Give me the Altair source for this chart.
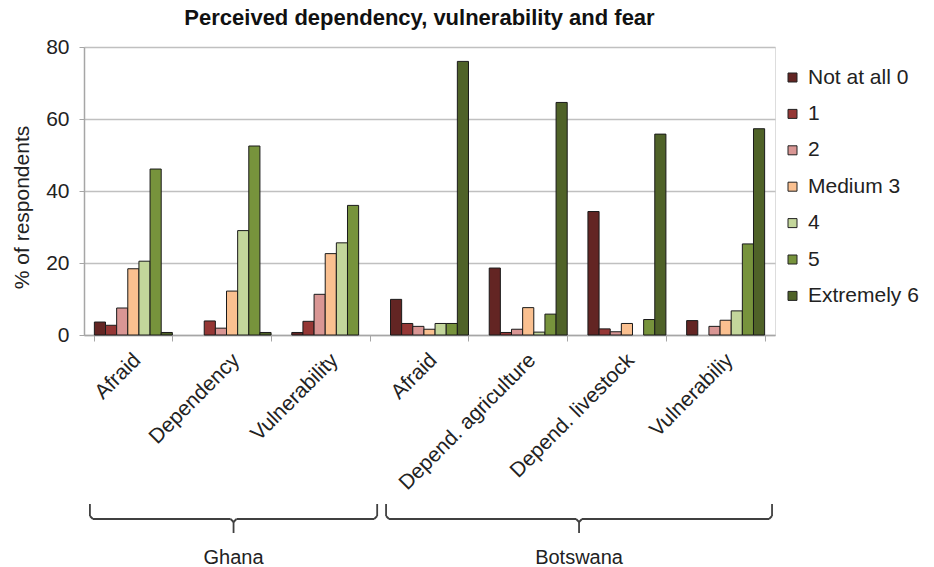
import altair as alt
import pandas as pd

# Survey items, grouped by country
countries = ["Ghana", "Ghana", "Ghana", "Botswana", "Botswana", "Botswana", "Botswana"]
items = ["Afraid", "Dependency", "Vulnerability", "Afraid",
         "Depend. agriculture", "Depend. livestock", "Vulnerabiliy"]

# Response levels (0 = not at all ... 6 = extremely)
levels = ["Not at all 0", "1", "2", "Medium 3", "4", "5", "Extremely 6"]
colors = ["#632523", "#953735", "#D99694", "#FAC090", "#C3D69B", "#77933C", "#4F6228"]

# % of respondents per level, one value per item
not_at_all_0 = [3.6, 0.0, 0.7, 9.9, 18.6, 34.3, 4.0]
level_1 = [2.7, 3.9, 3.8, 3.2, 0.7, 1.7, 0.0]
level_2 = [7.5, 1.9, 11.3, 2.4, 1.6, 0.9, 2.4]
medium_3 = [18.4, 12.2, 22.6, 1.6, 7.6, 3.2, 4.1]
level_4 = [20.5, 29.0, 25.6, 3.2, 0.8, 0.0, 6.7]
level_5 = [46.1, 52.5, 36.0, 3.2, 5.8, 4.3, 25.3]
extremely_6 = [0.7, 0.7, 0.0, 76.0, 64.6, 55.8, 57.3]

series = [not_at_all_0, level_1, level_2, medium_3, level_4, level_5, extremely_6]

keys = [f"{c}|{i}" for c, i in zip(countries, items)]
rows = []
for lvl, vals in zip(levels, series):
    for k, v in zip(keys, vals):
        rows.append({"key": k, "level": lvl, "value": v})
bars_df = pd.DataFrame(rows)

FONT = "Liberation Sans"
W, H = 691, 288

bars = alt.Chart(bars_df).transform_filter("datum.value > 0").mark_bar(
    stroke="#1a1a1a", strokeWidth=1
).encode(
    x=alt.X("key:N", sort=keys, title=None,
            scale=alt.Scale(paddingInner=0.21, paddingOuter=0.105),
            axis=alt.Axis(labelExpr="split(datum.label, '|')[1]", labelAngle=-45,
                          labelFontSize=21, labelFont=FONT, labelColor="#222",
                          labelPadding=8, labelOffset=-4,
                          tickBand="extent", tickSize=6, tickColor="#a6a6a6",
                          domainColor="#a6a6a6", domainWidth=1.5, grid=False,
                          labelLimit=400)),
    xOffset=alt.XOffset("level:N", sort=levels,
                        scale=alt.Scale(domain=levels, paddingInner=0, paddingOuter=0)),
    y=alt.Y("value:Q", title="% of respondents",
            scale=alt.Scale(domain=[0, 80], nice=False),
            axis=alt.Axis(values=[0, 20, 40, 60, 80], labelFontSize=21, labelFont=FONT,
                          labelColor="#222", labelPadding=10, tickSize=5,
                          tickColor="#a6a6a6", domainColor="#a6a6a6", domainWidth=1.5,
                          gridColor="#c0c0c0", gridWidth=1.5,
                          titleFontSize=21, titleFont=FONT, titleFontWeight="normal",
                          titleColor="#222", titleX=-62, titleY=160,
                          titleBaseline="middle")),
    color=alt.Color("level:N", sort=levels,
                    scale=alt.Scale(domain=levels, range=colors),
                    legend=alt.Legend(title=None, orient="none", legendX=698, legendY=20,
                                      symbolType="square", symbolSize=81,
                                      symbolStrokeColor="#222", symbolStrokeWidth=1,
                                      labelFontSize=21, labelFont=FONT, labelColor="#222",
                                      labelOffset=5, rowPadding=14.4)),
)

# Brackets below the item labels, one per country (x in item-index units)
group_names = ["Ghana", "Botswana"]
group_sizes = [3, 4]
inset_l, inset_r, corner = 0.06, 0.03, 0.03
seg_rows, lab_rows = [], []
start = 0
for name, n in zip(group_names, group_sizes):
    s = start + inset_l
    e = start + n - inset_r
    m = (s + e) / 2
    segs = [
        (s, s, 457, 469), (s, s + corner, 469, 472),
        (s + corner, m - corner, 472, 472), (m - corner, m, 472, 475),
        (m, m + corner, 475, 472), (m + corner, e - corner, 472, 472),
        (e - corner, e, 472, 469), (e, e, 469, 457),
        (m, m, 475, 486),
    ]
    for x1, x2, y1, y2 in segs:
        seg_rows.append({"x": x1, "x2": x2, "y": y1, "y2": y2})
    lab_rows.append({"x": m, "name": name})
    start += n
seg_df = pd.DataFrame(seg_rows)
lab_df = pd.DataFrame(lab_rows)

idx_scale = alt.Scale(domain=[0, sum(group_sizes)], nice=False, zero=False)

brackets = alt.Chart(seg_df).mark_rule(color="#404040", strokeWidth=1.8).encode(
    x=alt.X("x:Q", scale=idx_scale, axis=None),
    x2="x2:Q",
    y=alt.Y("y:Q", scale=None),
    y2="y2:Q",
)

group_labels = alt.Chart(lab_df).mark_text(
    fontSize=20, font=FONT, color="#222", baseline="middle"
).encode(
    x=alt.X("x:Q", scale=idx_scale, axis=None),
    y=alt.value(511),
    text="name:N",
)

chart = alt.layer(bars, brackets, group_labels).resolve_scale(
    x="independent"
).properties(
    width=W, height=H,
    title=alt.TitleParams("Perceived dependency, vulnerability and fear",
                          fontSize=22, font=FONT, fontWeight="bold", color="#111",
                          anchor="middle", dx=-10, offset=6),
    autosize=alt.AutoSizeParams(type="none"),
    padding={"left": 84, "top": 47, "right": 934 - 84 - W, "bottom": 567 - 47 - H},
).configure_view(stroke=None).configure(background="white")

chart.save("out.html", embed_options={"renderer": "svg", "actions": False})
